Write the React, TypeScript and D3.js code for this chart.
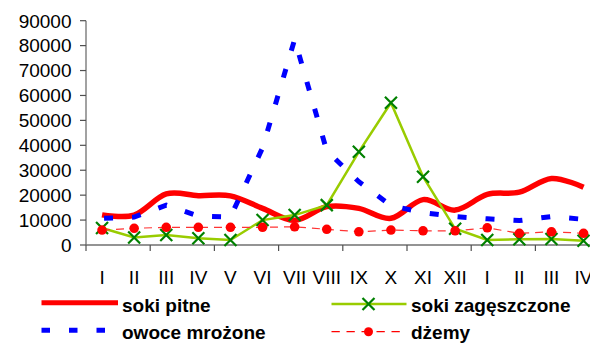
import React from "react";
import * as d3 from "d3";

const categories = ["I", "II", "III", "IV", "V", "VI", "VII", "VIII", "IX", "X", "XI", "XII", "I", "II", "III", "IV"];
const sokiPitne = [12100, 12000, 20500, 19800, 19700, 14700, 9900, 15400, 14700, 10700, 18200, 14000, 20300, 21200, 26700, 23200];
const sokiZageszczone = [6800, 3000, 4000, 2700, 2000, 10000, 12000, 16000, 37400, 57100, 27400, 6500, 2000, 2300, 2400, 1700];
const owoceMrozone = [10700, 11200, 16000, 11600, 11200, 39000, 82500, 37800, 25400, 15800, 13000, 11400, 10500, 9800, 11400, 10300];
const dzemy = [6000, 6700, 7100, 7100, 7100, 7100, 7300, 6300, 5300, 6000, 5700, 5700, 6900, 4700, 5300, 4700];
const yTicks = [0, 10000, 20000, 30000, 40000, 50000, 60000, 70000, 80000, 90000];
const seriesNames = ["soki pitne", "soki zagęszczone", "owoce mrożone", "dżemy"];

const FONT = "'Liberation Sans', Arial, sans-serif";

export default function App() {
  const W = 590, H = 349;
  const left = 86, step = 32.1;
  const x = d3.scaleBand<number>().domain(d3.range(categories.length)).range([left, left + step * categories.length]).padding(0);
  const cx = (i: number) => (x(i) as number) + x.bandwidth() / 2;
  const y = d3.scaleLinear().domain([0, 90000]).range([245, 20.7]);

  const smooth = d3.line<number>().x((_, i) => cx(i)).y((d) => y(d)).curve(d3.curveCardinal.tension(0));
  const straight = d3.line<number>().x((_, i) => cx(i)).y((d) => y(d));

  const xTickIdx = d3.range(0, categories.length + 1, 2);
  const xMark = (px: number, py: number, s: number, key: any) => (
    <path key={key} d={`M${px - s},${py - s}L${px + s},${py + s}M${px - s},${py + s}L${px + s},${py - s}`} stroke="#008000" strokeWidth={2.2} fill="none" />
  );

  return (
    <svg width={W} height={H} style={{ position: "absolute", left: 0, top: 0 }} fontFamily={FONT}>
      <rect width={W} height={H} fill="#fff" />
      {/* y axis */}
      <line x1={left} x2={left} y1={y(90000)} y2={y(0)} stroke="#707070" strokeWidth={1.3} />
      {yTicks.map((t) => (
        <g key={t}>
          <line x1={left - 6} x2={left} y1={y(t)} y2={y(t)} stroke="#505050" strokeWidth={1.2} />
          <text x={71.5} y={y(t) + 6.8} textAnchor="end" fontSize={19} fill="#000">{t}</text>
        </g>
      ))}
      {/* x axis */}
      <line x1={left} x2={left + step * categories.length} y1={y(0)} y2={y(0)} stroke="#707070" strokeWidth={1.3} />
      {xTickIdx.map((i) => {
        const px = left + step * i;
        return <line key={i} x1={px} x2={px} y1={y(0)} y2={y(0) + 6} stroke="#505050" strokeWidth={1.2} />;
      })}
      {categories.map((c, i) => (
        <text key={i} x={cx(i)} y={284} textAnchor="middle" fontSize={19} fill="#000">{c}</text>
      ))}

      {/* series */}
      <path d={smooth(sokiPitne) || ""} fill="none" stroke="#ff0000" strokeWidth={5.5} />
      <path d={straight(sokiZageszczone) || ""} fill="none" stroke="#99cc00" strokeWidth={2.5} />
      {sokiZageszczone.map((v, i) => xMark(cx(i), y(v), 6, "x" + i))}
      <path d={straight(owoceMrozone) || ""} fill="none" stroke="#0000ff" strokeWidth={5} strokeDasharray="9 19" strokeDashoffset={-2} />
      <path d={straight(dzemy) || ""} fill="none" stroke="#ff3333" strokeWidth={1.2} strokeDasharray="8 6" />
      {dzemy.map((v, i) => (
        <circle key={"d" + i} cx={cx(i)} cy={y(v)} r={4.8} fill="#ff0000" />
      ))}

      {/* legend */}
      <g fontSize={19} fontWeight="bold" fill="#000">
        <line x1={41.5} x2={118} y1={302.8} y2={302.8} stroke="#ff0000" strokeWidth={5} />
        <text x={122} y={312}>{seriesNames[0]}</text>

        <line x1={331.5} x2={406.5} y1={304} y2={304} stroke="#99cc00" strokeWidth={2.5} />
        {xMark(368.5, 304, 6, "lx")}
        <text x={411} y={312}>{seriesNames[1]}</text>

        <line x1={41.5} x2={107} y1={330.2} y2={330.2} stroke="#0000ff" strokeWidth={5} strokeDasharray="8.5 19" />
        <text x={122} y={338.5}>{seriesNames[2]}</text>

        <line x1={331.5} x2={406.5} y1={331.7} y2={331.7} stroke="#ff0000" strokeWidth={1.2} strokeDasharray="8.3 6.7" />
        <circle cx={368.5} cy={331.7} r={4.5} fill="#ff0000" />
        <text x={411} y={338.5}>{seriesNames[3]}</text>
      </g>
    </svg>
  );
}
